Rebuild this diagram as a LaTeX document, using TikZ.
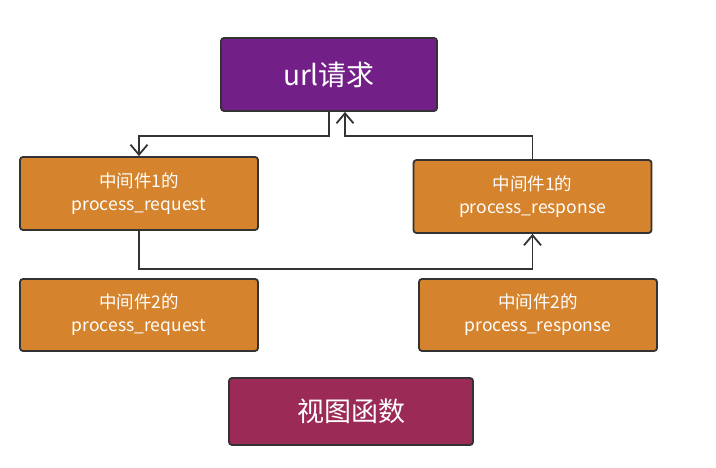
\documentclass[tikz,border=0pt]{standalone}
\usepackage{fontspec}
\setmainfont{Noto Sans CJK SC}
\usetikzlibrary{arrows.meta,positioning}
\definecolor{urlpurple}{HTML}{721F88}
\definecolor{mworange}{HTML}{D5832C}
\definecolor{viewred}{HTML}{9B2A56}
\definecolor{linegray}{HTML}{333333}

\begin{document}
\begin{tikzpicture}[x=1pt,y=-1pt,
    every node/.append style={font=\rmfamily, text=white, align=center},
    box/.style={draw=linegray, line width=1.8pt, rounded corners=3pt,
                minimum width=238pt, minimum height=73pt, font=\fontsize{17.5}{23}\selectfont},
    bigbox/.style={box, font=\fontsize{28}{32}\selectfont},
    conn/.style={draw=linegray, line width=1.8pt,
                 -{Straight Barb[width=17pt,length=10pt,line width=1.8pt]}}]
    \useasboundingbox (0,0) rectangle (716,468);
    \node[bigbox, fill=urlpurple, minimum width=216pt] (url) at (329,74.5) {url请求};
    \node[box, fill=mworange] (req1) at (139,193.5) {中间件1的\\process\_request};
    \node[box, fill=mworange] (resp1) at (532.5,196.5) {中间件1的\\process\_response};
    \node[box, fill=mworange, minimum height=72pt] (req2) at (139,315) {中间件2的\\process\_request};
    \node[box, fill=mworange, minimum height=72pt] (resp2) at (538,315) {中间件2的\\process\_response};
    \node[bigbox, fill=viewred, minimum width=244pt, minimum height=67pt,
          font=\fontsize{27}{32}\selectfont] (view) at (351,411.5) {视图函数};
    % connectors
    \draw[conn] (url.south) -- ++(0,24) -| (req1.north);
    \draw[conn] (resp1.north) |- ([xshift=16pt,yshift=-24pt]url.south) -- ([xshift=16pt]url.south);
    \draw[conn] (req1.south) -- ++(0,38) -| (resp1.south);
\end{tikzpicture}
\end{document}
